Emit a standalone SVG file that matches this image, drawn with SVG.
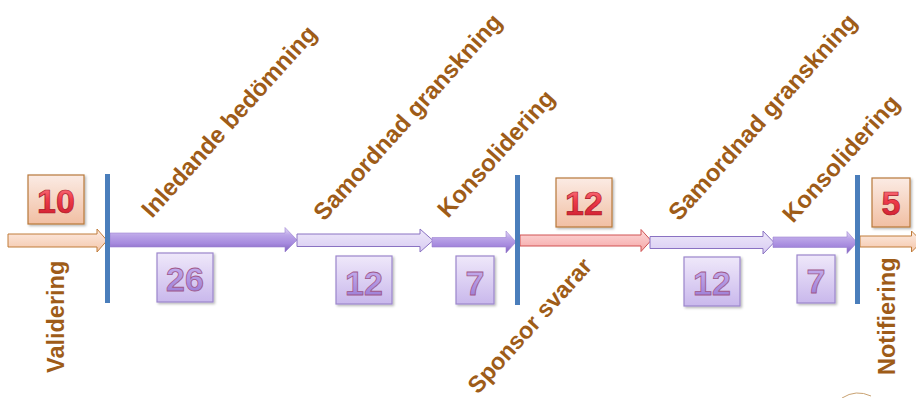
<svg xmlns="http://www.w3.org/2000/svg" width="916" height="398" viewBox="0 0 916 398">
  <defs>
    <linearGradient id="peach" x1="0" y1="0" x2="0" y2="1">
      <stop offset="0" stop-color="#fdece3"/>
      <stop offset="1" stop-color="#f4c6aa"/>
    </linearGradient>
    <linearGradient id="pink" x1="0" y1="0" x2="0" y2="1">
      <stop offset="0" stop-color="#fddada"/>
      <stop offset="1" stop-color="#f5a6a6"/>
    </linearGradient>
    <linearGradient id="lav" x1="0" y1="0" x2="0" y2="1">
      <stop offset="0" stop-color="#eee8fa"/>
      <stop offset="1" stop-color="#d8ccf2"/>
    </linearGradient>
    <linearGradient id="purpleBevel" x1="0" y1="0" x2="0" y2="1">
      <stop offset="0" stop-color="#e6dcf8"/>
      <stop offset="0.3" stop-color="#bca6e8"/>
      <stop offset="0.65" stop-color="#a68ade"/>
      <stop offset="1" stop-color="#7f60bc"/>
    </linearGradient>
    <linearGradient id="peachBox" x1="0" y1="0" x2="0" y2="1">
      <stop offset="0" stop-color="#fbebe4"/>
      <stop offset="1" stop-color="#f1bfa3"/>
    </linearGradient>
    <linearGradient id="lavBox" x1="0" y1="0" x2="0" y2="1">
      <stop offset="0" stop-color="#efe8fa"/>
      <stop offset="1" stop-color="#c9b8ec"/>
    </linearGradient>
    <linearGradient id="redNum" x1="0" y1="0" x2="0" y2="1">
      <stop offset="0" stop-color="#ff8a92"/>
      <stop offset="0.45" stop-color="#ee3a4a"/>
      <stop offset="1" stop-color="#c81a2a"/>
    </linearGradient>
    <linearGradient id="purpleNum" x1="0" y1="0" x2="0" y2="1">
      <stop offset="0" stop-color="#cbb6f2"/>
      <stop offset="1" stop-color="#9676d2"/>
    </linearGradient>
    <filter id="shadow" x="-20%" y="-20%" width="150%" height="150%">
      <feDropShadow dx="1.5" dy="1.5" stdDeviation="1" flood-color="#000" flood-opacity="0.28"/>
    </filter>
  </defs>
  <style>
    .label { font-family: "Liberation Sans", Arial, sans-serif; font-weight: bold; font-size: 23.5px; fill: #9e5c18; }
    .diag { font-size: 24px; }
    .num { font-family: "Liberation Sans", Arial, sans-serif; font-weight: bold; font-size: 34px; text-anchor: middle; }
    .numRed { fill: url(#redNum); stroke: #a81a28; stroke-width: 0.7; }
    .numPurple { fill: url(#purpleNum); stroke: #a0588a; stroke-width: 0.8; }
    .boxPeach { fill: url(#peachBox); stroke: #b8783a; stroke-width: 1.2; filter: url(#shadow); }
    .boxLav { fill: url(#lavBox); stroke: #9c86cc; stroke-width: 1.2; filter: url(#shadow); }
    .milestone { stroke: #4a7ebb; stroke-width: 5; }
    .arrPeach { fill: url(#peach); stroke: #c07c3a; stroke-width: 1; }
    .arrPink { fill: url(#pink); stroke: #d05252; stroke-width: 1; }
    .arrLav { fill: url(#lav); stroke: #8a72c2; stroke-width: 1; }
    .arrPurple { fill: url(#purpleBevel); stroke: #9a82d0; stroke-width: 0.6; }
  </style>

  <rect width="916" height="398" fill="#ffffff"/>

  <!-- timeline arrows -->
  <g id="connectors">
    <path class="arrPeach" d="M8,234 H97 V229 L107,240.5 L97,252 V247 H8 Z"/>
    <path class="arrPurple" d="M110,233 H285 V227.5 L297,240 L285,252 V247 H110 Z"/>
    <path class="arrLav" d="M297,234 H420 V229 L433,240.5 L420,252 V246.5 H297 Z"/>
    <path class="arrPurple" d="M432,237.5 H506 V231 L516,242 L506,253 V247 H432 Z"/>
    <path class="arrPink" d="M520,235 H641 V229.5 L651,240.5 L641,251.5 V246 H520 Z"/>
    <path class="arrLav" d="M650,236.5 H763 V231 L774,242.5 L763,254 V248.5 H650 Z"/>
    <path class="arrPurple" d="M773,237 H847 V231.5 L857,242.5 L847,253.5 V247.5 H773 Z"/>
    <path class="arrPeach" d="M860,236 H911.5 V231 L922,241.5 L911.5,252 V247 H860 Z"/>
  </g>

  <!-- milestone bars -->
  <g id="milestones">
    <line class="milestone" x1="107.5" y1="174" x2="107.5" y2="303"/>
    <line class="milestone" x1="517.5" y1="175" x2="517.5" y2="305"/>
    <line class="milestone" x1="857.5" y1="175" x2="857.5" y2="304"/>
  </g>

  <g id="validering">
    <rect class="boxPeach" x="28" y="175" width="56" height="49"/>
    <text class="num numRed" x="56" y="213">10</text>
    <text class="label" transform="translate(63.5,373) rotate(-90)">Validering</text>
  </g>

  <g id="inledande">
    <rect class="boxLav" x="157" y="253" width="56" height="49"/>
    <text class="num numPurple" x="185" y="291">26</text>
    <text class="label diag" transform="translate(152,219) rotate(-48)">Inledande bedömning</text>
  </g>

  <g id="samordnad1">
    <rect class="boxLav" x="336" y="256" width="56" height="48"/>
    <text class="num numPurple" x="364" y="295">12</text>
    <text class="label diag" transform="translate(324,222) rotate(-48)">Samordnad granskning</text>
  </g>

  <g id="konsolidering1">
    <rect class="boxLav" x="456" y="256" width="38" height="48"/>
    <text class="num numPurple" x="475" y="295">7</text>
    <text class="label diag" transform="translate(448,219) rotate(-48)">Konsolidering</text>
  </g>

  <g id="sponsor">
    <rect class="boxPeach" x="556" y="178" width="56" height="49"/>
    <text class="num numRed" x="584" y="215">12</text>
    <text class="label" transform="translate(478,395) rotate(-48)">Sponsor svarar</text>
  </g>

  <g id="samordnad2">
    <rect class="boxLav" x="684" y="257" width="56" height="49"/>
    <text class="num numPurple" x="712" y="295">12</text>
    <text class="label diag" transform="translate(679,222) rotate(-48)">Samordnad granskning</text>
  </g>

  <g id="konsolidering2">
    <rect class="boxLav" x="797" y="255" width="38" height="48"/>
    <text class="num numPurple" x="816" y="293">7</text>
    <text class="label diag" transform="translate(793,224) rotate(-48)">Konsolidering</text>
  </g>

  <g id="notifiering">
    <rect class="boxPeach" x="872" y="178" width="38" height="49"/>
    <text class="num numRed" x="891" y="215">5</text>
    <text class="label" transform="translate(895,375) rotate(-90)">Notifiering</text>
  </g>

  <!-- edge of a seal, bottom right -->
  <path d="M842,398 Q856,389 871,396" fill="none" stroke="#c9a272" stroke-width="1"/>
</svg>
